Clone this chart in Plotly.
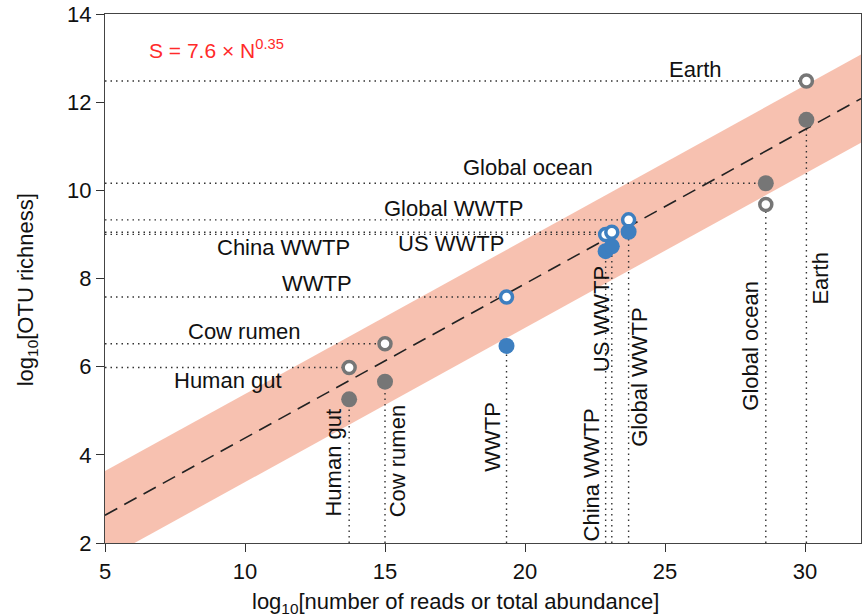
import numpy as np
import plotly.graph_objects as go

# ---- data ----
names = ["Human gut", "Cow rumen", "WWTP", "China WWTP", "US WWTP", "Global WWTP", "Global ocean", "Earth"]
log_n = [13.72, 15.0, 19.34, 22.88, 23.1, 23.7, 28.6, 30.05]
open_s = [5.98, 6.52, 7.58, 9.0, 9.05, 9.33, 9.68, 12.48]
filled_s = [5.26, 5.66, 6.47, 8.62, 8.73, 9.06, 10.16, 11.6]
kind = ["gray", "gray", "blue", "blue", "blue", "blue", "gray", "gray"]

# horizontal label positions (data coords)
hlab_x = [9.41, 9.98, 12.58, 11.37, 17.35, 17.46, 20.09, 26.1]
hlab_y = [5.68, 6.79, 7.88, 8.71, 8.80, 9.59, 10.52, 12.73]
# vertical label positions
vlab_x = [13.15, 15.46, 18.84, 22.37, 22.72, 24.11, 28.06, 30.52]
vlab_y = [3.83, 3.85, 4.40, 3.54, 7.08, 5.75, 6.47, 8.01]

fit_a = 7.6
fit_b = 0.35
band_half = 1.0
x_range = [5, 32]
y_range = [2, 14]

GRAY = "#767676"
BLUE = "#3d7fc0"
BAND = "rgba(247,190,172,0.95)"
FONT = "Liberation Sans, Arial, Helvetica, sans-serif"
FS = 22

fig = go.Figure()

xf = np.array(x_range, dtype=float)
yf = np.log10(fit_a) + fit_b * xf
fig.add_trace(go.Scatter(x=list(xf) + list(xf[::-1]),
                         y=list(yf + band_half) + list((yf - band_half)[::-1]),
                         fill="toself", fillcolor=BAND, line=dict(width=0),
                         mode="lines", hoverinfo="skip", showlegend=False))
fig.add_trace(go.Scatter(x=xf, y=yf, mode="lines",
                         line=dict(color="#222", width=1.6, dash="14px,8px"),
                         showlegend=False))

# dotted guide lines
for i, n in enumerate(names):
    top = max(open_s[i], filled_s[i])
    bot = min(open_s[i], filled_s[i])
    fig.add_trace(go.Scatter(x=[x_range[0], log_n[i]], y=[top, top], mode="lines",
                             line=dict(color="#333", width=1.4, dash="1.5px,4px"),
                             showlegend=False, hoverinfo="skip"))
    fig.add_trace(go.Scatter(x=[log_n[i], log_n[i]], y=[y_range[0], bot], mode="lines",
                             line=dict(color="#333", width=1.4, dash="1.5px,4px"),
                             showlegend=False, hoverinfo="skip"))

cols = [GRAY if k == "gray" else BLUE for k in kind]
fig.add_trace(go.Scatter(x=log_n, y=filled_s, mode="markers",
                         marker=dict(size=16, color=cols, line=dict(width=0)),
                         showlegend=False))
fig.add_trace(go.Scatter(x=log_n, y=open_s, mode="markers",
                         marker=dict(size=12, color="white", line=dict(width=3.5, color=cols)),
                         showlegend=False))

for i, n in enumerate(names):
    fig.add_annotation(x=hlab_x[i], y=hlab_y[i], text=n, showarrow=False,
                       font=dict(size=FS, color="#111", family=FONT))
    fig.add_annotation(x=vlab_x[i], y=vlab_y[i], text=n, showarrow=False, textangle=-90,
                       font=dict(size=FS, color="#111", family=FONT))

fig.add_annotation(x=6.5, y=13.2, xanchor="left", text="S = 7.6 × N<sup>0.35</sup>",
                   showarrow=False, font=dict(size=FS - 1, color="#ff2a2a", family=FONT))

# axis titles
fig.add_annotation(xref="paper", yref="paper", x=0.464, y=-0.113, yanchor="middle",
                   text="log<sub>10</sub>[number of reads or total abundance]", showarrow=False,
                   font=dict(size=FS, color="#111", family=FONT))
fig.add_annotation(xref="paper", yref="paper", x=-0.103, y=0.478, xanchor="center", yanchor="middle",
                   textangle=-90, text="log<sub>10</sub>[OTU richness]", showarrow=False,
                   font=dict(size=FS, color="#111", family=FONT))

fig.update_layout(
    width=864, height=616,
    margin=dict(l=105, r=2, t=12, b=73),
    plot_bgcolor="white", paper_bgcolor="white",
    font=dict(family=FONT, size=FS, color="#111"),
    xaxis=dict(range=x_range, tickvals=[5, 10, 15, 20, 25, 30], ticks="outside", ticklen=8,
               tickcolor="#333", showgrid=False, zeroline=False, showline=True, linecolor="#444",
               linewidth=1.3, mirror=True, tickfont=dict(size=FS), ticklabeloverflow="allow"),
    yaxis=dict(range=y_range, tickvals=[2, 4, 6, 8, 10, 12, 14], ticks="outside", ticklen=8,
               tickcolor="#333", showgrid=False, zeroline=False, showline=True, linecolor="#444",
               linewidth=1.3, mirror=True, tickfont=dict(size=FS), ticklabeloverflow="allow"),
)

fig.write_html("out.html")
